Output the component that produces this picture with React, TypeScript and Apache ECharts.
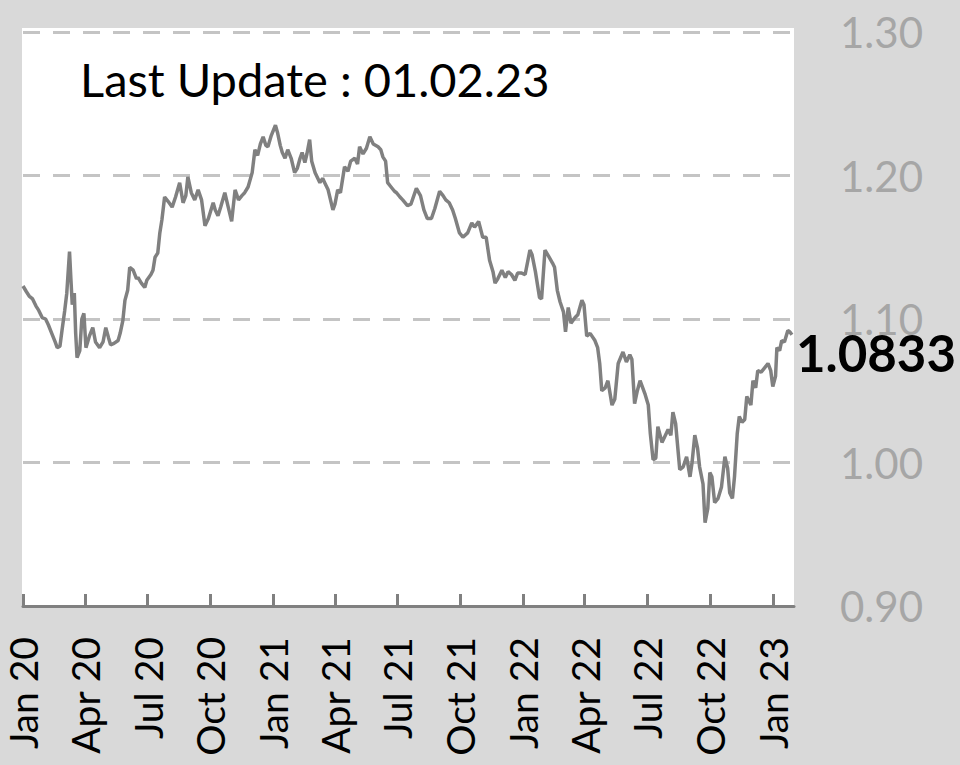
import React, { useEffect, useRef } from "react";
import * as echarts from "echarts";

// EUR/USD
const DATES: string[] = [
  "2020-01-01","2020-01-06","2020-01-10","2020-01-15","2020-01-20","2020-01-24","2020-01-29","2020-02-03","2020-02-07","2020-02-12",
  "2020-02-17","2020-02-20","2020-02-24","2020-02-27","2020-03-02","2020-03-05","2020-03-09","2020-03-11","2020-03-13","2020-03-16",
  "2020-03-18","2020-03-20","2020-03-24","2020-03-27","2020-03-30","2020-04-02","2020-04-07","2020-04-12","2020-04-16","2020-04-22",
  "2020-04-27","2020-05-01","2020-05-05","2020-05-08","2020-05-13","2020-05-19","2020-05-22","2020-05-26","2020-05-29","2020-06-02",
  "2020-06-05","2020-06-10","2020-06-15","2020-06-17","2020-06-22","2020-06-27","2020-06-30","2020-07-06","2020-07-09","2020-07-12",
  "2020-07-16","2020-07-19","2020-07-22","2020-07-26","2020-07-31","2020-08-06","2020-08-11","2020-08-17","2020-08-22","2020-08-26",
  "2020-08-29","2020-09-03","2020-09-08","2020-09-13","2020-09-18","2020-09-23","2020-09-28","2020-10-05","2020-10-08","2020-10-12",
  "2020-10-16","2020-10-22","2020-10-27","2020-11-01","2020-11-06","2020-11-11","2020-11-16","2020-11-20","2020-11-25","2020-12-01",
  "2020-12-05","2020-12-09","2020-12-13","2020-12-17","2020-12-21","2020-12-24","2020-12-29","2021-01-04","2021-01-07","2021-01-11",
  "2021-01-14","2021-01-18","2021-01-22","2021-01-27","2021-02-01","2021-02-05","2021-02-09","2021-02-12","2021-02-16","2021-02-19",
  "2021-02-23","2021-02-26","2021-03-03","2021-03-10","2021-03-14","2021-03-17","2021-03-22","2021-03-29","2021-04-01","2021-04-05",
  "2021-04-09","2021-04-15","2021-04-20","2021-04-24","2021-04-30","2021-05-04","2021-05-07","2021-05-12","2021-05-17","2021-05-22",
  "2021-05-27","2021-06-03","2021-06-07","2021-06-10","2021-06-14","2021-06-17","2021-06-22","2021-06-27","2021-06-30","2021-07-05",
  "2021-07-09","2021-07-16","2021-07-21","2021-07-29","2021-08-04","2021-08-09","2021-08-14","2021-08-20","2021-08-25","2021-09-01",
  "2021-09-06","2021-09-10","2021-09-15","2021-09-20","2021-09-24","2021-09-30","2021-10-05","2021-10-12","2021-10-18","2021-10-22",
  "2021-10-28","2021-11-03","2021-11-08","2021-11-13","2021-11-18","2021-11-21","2021-11-25","2021-12-01","2021-12-06","2021-12-10",
  "2021-12-15","2021-12-20","2021-12-24","2021-12-30","2022-01-04","2022-01-11","2022-01-14","2022-01-19","2022-01-25","2022-01-28",
  "2022-02-02","2022-02-07","2022-02-13","2022-02-16","2022-02-20","2022-02-24","2022-03-01","2022-03-04","2022-03-08","2022-03-12",
  "2022-03-18","2022-03-22","2022-03-28","2022-03-31","2022-04-04","2022-04-09","2022-04-16","2022-04-20","2022-04-23","2022-04-26",
  "2022-05-01","2022-05-05","2022-05-11","2022-05-15","2022-05-20","2022-05-27","2022-06-01","2022-06-06","2022-06-09","2022-06-13",
  "2022-06-17","2022-06-21","2022-06-28","2022-07-03","2022-07-06","2022-07-10","2022-07-14","2022-07-17","2022-07-23","2022-07-27",
  "2022-08-01","2022-08-05","2022-08-08","2022-08-12","2022-08-18","2022-08-23","2022-08-28","2022-09-02","2022-09-05","2022-09-09",
  "2022-09-13","2022-09-16","2022-09-21","2022-09-24","2022-09-28","2022-10-01","2022-10-04","2022-10-08","2022-10-13","2022-10-18",
  "2022-10-23","2022-10-27","2022-10-30","2022-11-03","2022-11-06","2022-11-10","2022-11-13","2022-11-17","2022-11-21","2022-11-24",
  "2022-11-30","2022-12-03","2022-12-07","2022-12-10","2022-12-15","2022-12-20","2022-12-25","2022-12-29","2023-01-01","2023-01-05",
  "2023-01-07","2023-01-11","2023-01-14","2023-01-18","2023-01-23","2023-01-26","2023-01-29",
];

const VALUES: number[] = [
  1.123,1.119,1.116,1.114,1.109,1.106,1.101,1.100,1.096,1.090,
  1.084,1.080,1.081,1.092,1.106,1.118,1.147,1.128,1.110,1.118,
  1.090,1.073,1.078,1.100,1.104,1.080,1.088,1.094,1.084,1.080,
  1.084,1.094,1.087,1.082,1.083,1.085,1.090,1.099,1.113,1.120,
  1.136,1.134,1.128,1.129,1.125,1.122,1.127,1.131,1.134,1.143,
  1.146,1.160,1.169,1.185,1.182,1.178,1.185,1.195,1.181,1.186,
  1.199,1.188,1.183,1.190,1.183,1.165,1.170,1.181,1.176,1.172,
  1.178,1.188,1.178,1.168,1.190,1.183,1.186,1.188,1.192,1.202,
  1.218,1.214,1.222,1.227,1.221,1.220,1.228,1.235,1.230,1.221,
  1.216,1.212,1.218,1.212,1.202,1.205,1.212,1.216,1.209,1.215,
  1.225,1.210,1.202,1.195,1.198,1.195,1.190,1.176,1.180,1.190,
  1.188,1.206,1.203,1.210,1.212,1.208,1.220,1.215,1.219,1.227,
  1.222,1.220,1.218,1.213,1.210,1.195,1.192,1.189,1.188,1.185,
  1.183,1.179,1.180,1.191,1.186,1.176,1.170,1.170,1.177,1.189,
  1.186,1.183,1.181,1.176,1.170,1.160,1.157,1.160,1.167,1.164,
  1.168,1.157,1.157,1.141,1.133,1.125,1.128,1.134,1.129,1.133,
  1.131,1.127,1.132,1.132,1.131,1.148,1.145,1.133,1.115,1.114,
  1.148,1.144,1.139,1.136,1.120,1.112,1.105,1.091,1.108,1.097,
  1.101,1.103,1.113,1.110,1.088,1.090,1.085,1.080,1.069,1.050,
  1.052,1.057,1.040,1.044,1.069,1.077,1.070,1.075,1.072,1.041,
  1.050,1.057,1.048,1.040,1.020,1.002,1.003,1.025,1.014,1.018,
  1.023,1.019,1.035,1.027,0.995,0.997,1.004,0.990,1.000,1.019,
  1.010,0.997,0.985,0.958,0.968,0.993,0.990,0.972,0.975,0.983,
  1.004,0.996,0.979,0.975,0.990,1.020,1.032,1.028,1.030,1.046,
  1.040,1.057,1.052,1.064,1.063,1.066,1.069,1.064,1.053,1.060,
  1.080,1.078,1.085,1.084,1.092,1.091,1.089,
];

const TICK_DATES: string[] = [
  "2020-01-01","2020-04-01","2020-07-01","2020-10-01",
  "2021-01-01","2021-04-01","2021-07-01","2021-10-01",
  "2022-01-01","2022-04-01","2022-07-01","2022-10-01",
  "2023-01-01",
];
const TICK_LABELS: string[] = [
  "Jan 20","Apr 20","Jul 20","Oct 20",
  "Jan 21","Apr 21","Jul 21","Oct 21",
  "Jan 22","Apr 22","Jul 22","Oct 22",
  "Jan 23",
];

const X_MIN = "2020-01-01";
const X_MAX = "2023-02-01";
const Y_MIN = 0.9;
const Y_MAX = 1.3;
const Y_STEP = 0.1;
const LAST_LABEL = "1.0833";
const UPDATE_TEXT = "Last Update : 01.02.23";

const DAY = 86400000;
// days since 2020-01-01 (UTC based, so DST never shifts a date)
function toDay(s: string): number {
  const [y, m, d] = s.split("-").map(Number);
  return Math.round((Date.UTC(y, m - 1, d) - Date.UTC(2020, 0, 1)) / DAY);
}

export default function App() {
  const ref = useRef<HTMLDivElement>(null);
  useEffect(() => {
    if (!ref.current) return;
    const chart = echarts.init(ref.current, undefined, { renderer: "svg" });
    const tickDays = TICK_DATES.map(toDay);
    const data = DATES.map((d, i) => [toDay(d), VALUES[i]]);
    const font = "Lato";
    chart.setOption({
      animation: false,
      backgroundColor: "#d9d9d9",
      grid: {
        left: 23,
        right: 166,
        top: 32,
        bottom: 159,
        containLabel: false,
        outerBoundsMode: "none",
      },
      graphic: [
        {
          type: "rect",
          z: -10,
          silent: true,
          shape: { x: 22, y: 28, width: 772, height: 578 },
          style: { fill: "#ffffff" },
        },
        {
          type: "text",
          z: 10,
          x: 80,
          y: 79,
          style: {
            text: UPDATE_TEXT,
            fill: "#000000",
            fontSize: 47,
            fontFamily: font,
            verticalAlign: "middle",
            align: "left",
          },
        },
      ],
      xAxis: {
        type: "value",
        min: toDay(X_MIN),
        max: toDay(X_MAX),
        axisLine: { show: true, lineStyle: { color: "#808080", width: 3 } },
        axisTick: {
          show: true,
          inside: true,
          length: 12,
          lineStyle: { color: "#808080", width: 3 },
          customValues: tickDays,
        },
        axisLabel: {
          customValues: tickDays,
          rotate: 90,
          margin: 31,
          color: "#000000",
          fontSize: 39,
          fontFamily: font,
          formatter: (v: number) => {
            const i = tickDays.indexOf(v);
            return i >= 0 ? TICK_LABELS[i] : "";
          },
        },
        splitLine: { show: false },
      },
      yAxis: {
        type: "value",
        position: "right",
        min: Y_MIN,
        max: Y_MAX,
        interval: Y_STEP,
        axisLine: { show: false },
        axisTick: { show: false },
        axisLabel: {
          margin: 46,
          color: "#a6a6a6",
          fontSize: 42,
          fontFamily: font,
          formatter: (v: number) => v.toFixed(2),
        },
        splitLine: {
          show: true,
          lineStyle: { color: "#c4c4c4", width: 3, type: [17, 13] },
        },
      },
      series: [
        {
          type: "line",
          data,
          showSymbol: false,
          symbol: "none",
          lineStyle: { color: "#808080", width: 3.5 },
          itemStyle: { color: "#808080" },
          z: 5,
          endLabel: {
            show: true,
            formatter: () => LAST_LABEL,
            color: "#000000",
            fontWeight: "bold",
            fontSize: 51,
            fontFamily: font,
            distance: 4,
            offset: [0, 18],
          },
        },
      ],
    });
    return () => chart.dispose();
  }, []);
  return (
    <div
      ref={ref}
      style={{ position: "fixed", left: 0, top: 0, width: 960, height: 765 }}
    />
  );
}
